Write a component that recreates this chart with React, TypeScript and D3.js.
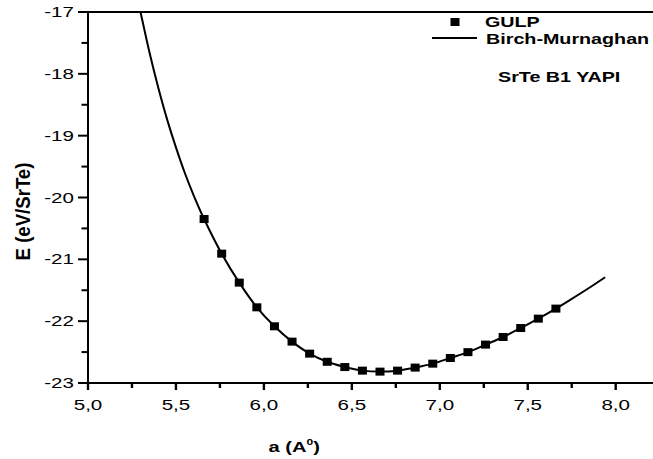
import React from "react";
import * as d3 from "d3";

// GULP data points (lattice constant a, energy E)
const gulpA = [5.66, 5.76, 5.86, 5.96, 6.06, 6.16, 6.26, 6.36, 6.46, 6.56, 6.66, 6.76, 6.86, 6.96, 7.06, 7.16, 7.26, 7.36, 7.46, 7.56, 7.66];
const gulpE = [-20.348, -20.908, -21.377, -21.776, -22.083, -22.331, -22.525, -22.657, -22.742, -22.8, -22.816, -22.8, -22.751, -22.687, -22.596, -22.501, -22.379, -22.256, -22.111, -21.959, -21.797];

// Birch-Murnaghan fit curve samples
const fitA = [5.29, 5.3, 5.35, 5.4, 5.45, 5.5, 5.55, 5.6, 5.66, 5.76, 5.86, 5.96, 6.06, 6.16, 6.26, 6.36, 6.46, 6.56, 6.66, 6.76, 6.86, 6.96, 7.06, 7.16, 7.26, 7.36, 7.46, 7.56, 7.66, 7.75, 7.85, 7.94];
const fitE = [-16.89, -17.02, -17.66, -18.23, -18.74, -19.19, -19.6, -19.96, -20.348, -20.908, -21.377, -21.776, -22.083, -22.331, -22.525, -22.657, -22.742, -22.8, -22.816, -22.8, -22.751, -22.687, -22.596, -22.501, -22.379, -22.256, -22.111, -21.959, -21.797, -21.64, -21.46, -21.29];

const xTicks = [5.0, 5.5, 6.0, 6.5, 7.0, 7.5, 8.0];
const xMinorTicks = [5.25, 5.75, 6.25, 6.75, 7.25, 7.75];
const yTicks = [-23, -22, -21, -20, -19, -18, -17];
const yMinorTicks = [-22.5, -21.5, -20.5, -19.5, -18.5, -17.5];

const legendLabels = ["GULP", "Birch-Murnaghan"];
const noteText = "SrTe B1 YAPI";
const xTitle = "a (A";
const xTitleSup = "0";
const yTitle = "E (eV/SrTe)";

const W = 653;
const H = 459;
const left = 88;
const top = 12;
const bottom = 383;
const rightEdge = 653;
const FONT = "'Liberation Sans', Arial, Helvetica, sans-serif";
const SX = 1.42; // horizontal stretch of the original picture's text

export default function App() {
  const x = d3.scaleLinear().domain([5, 8]).range([left, 615.7]);
  const y = d3.scaleLinear().domain([-23, -17]).range([bottom, top]);
  const fmt = (v: number) => d3.format(".1f")(v).replace(".", ",");

  const fitPts: [number, number][] = fitA.map((a, i) => [a, fitE[i]]);
  const line = d3
    .line<[number, number]>()
    .x((d) => x(d[0]))
    .y((d) => y(d[1]))
    .curve(d3.curveCatmullRom.alpha(0.5));

  return (
    <svg
      width={W}
      height={H}
      style={{ position: "absolute", left: 0, top: 0, background: "#fff" }}
      fontFamily={FONT}
    >
      <defs>
        <clipPath id="plotClip">
          <rect x={left} y={top} width={rightEdge - left + 10} height={bottom - top} />
        </clipPath>
      </defs>
      <rect x={0} y={0} width={W} height={H} fill="#fff" />

      {/* fit curve */}
      <path d={line(fitPts) || ""} fill="none" stroke="#000" strokeWidth={2} clipPath="url(#plotClip)" />

      {/* data squares */}
      {gulpA.map((a, i) => (
        <rect key={i} x={x(a) - 4.5} y={y(gulpE[i]) - 4} width={9} height={8} fill="#000" />
      ))}

      {/* frame / axes */}
      <line x1={left} x2={rightEdge} y1={top} y2={top} stroke="#000" strokeWidth={2} />
      <line x1={left - 1} x2={rightEdge} y1={bottom} y2={bottom} stroke="#000" strokeWidth={2} />
      <line x1={left} x2={left} y1={top - 1} y2={bottom + 1} stroke="#000" strokeWidth={2} />

      {/* x ticks */}
      {xTicks.map((t) => (
        <g key={"xt" + t}>
          <line x1={x(t)} x2={x(t)} y1={bottom} y2={bottom + 7} stroke="#000" strokeWidth={2.4} />
          <text
            transform={`translate(${x(t)},${410}) scale(${SX},1)`}
            textAnchor="middle"
            fontSize={14.5}
            fill="#000"
          >
            {fmt(t)}
          </text>
        </g>
      ))}
      {xMinorTicks.map((t) => (
        <line key={"xm" + t} x1={x(t)} x2={x(t)} y1={bottom} y2={bottom + 5} stroke="#000" strokeWidth={2.4} />
      ))}

      {/* y ticks */}
      {yTicks.map((t) => (
        <g key={"yt" + t}>
          <line x1={left - 10} x2={left} y1={y(t)} y2={y(t)} stroke="#000" strokeWidth={2} />
          <text
            transform={`translate(${74},${y(t) + 5}) scale(${SX},1)`}
            textAnchor="end"
            fontSize={14.5}
            fill="#000"
          >
            {t}
          </text>
        </g>
      ))}
      {yMinorTicks.map((t) => (
        <line key={"ym" + t} x1={left - 6.5} x2={left} y1={y(t)} y2={y(t)} stroke="#000" strokeWidth={2} />
      ))}

      {/* axis titles */}
      <text
        transform={`translate(${268.6},${452}) scale(1.34,1)`}
        fontSize={15}
        fontWeight="bold"
        fill="#000"
      >
        {xTitle}
        <tspan fontSize={9} dy={-7}>{xTitleSup}</tspan>
        <tspan dy={7}>)</tspan>
      </text>
      <text
        transform={`translate(${30},${211.5}) rotate(-90) scale(1.2,1.34)`}
        textAnchor="middle"
        fontSize={15.5}
        fontWeight="bold"
        fill="#000"
      >
        {yTitle}
      </text>

      {/* legend */}
      <rect x={450.5} y={18} width={9} height={8} fill="#000" />
      <text transform={`translate(${485},${27}) scale(1.36,1)`} fontSize={14.5} fontWeight="bold" fill="#000">
        {legendLabels[0]}
      </text>
      <line x1={432} x2={477} y1={38} y2={38} stroke="#000" strokeWidth={2} />
      <text transform={`translate(${486},${43.5}) scale(1.36,1)`} fontSize={14.5} fontWeight="bold" fill="#000">
        {legendLabels[1]}
      </text>
      <text transform={`translate(${498},${81.7}) scale(1.36,1)`} fontSize={14.5} fontWeight="bold" fill="#000">
        {noteText}
      </text>
    </svg>
  );
}
